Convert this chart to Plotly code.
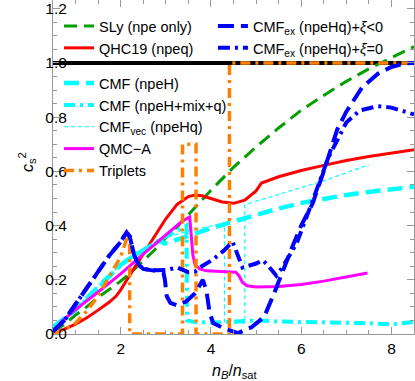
import plotly.graph_objects as go

# ---------------- data ----------------
sly_x = [0.5, 0.75, 1.0, 1.25, 1.5, 1.75, 2.0, 2.25, 2.5, 2.75, 3.0, 3.25, 3.5, 3.75, 4.0, 4.5,
         5.0, 5.5, 6.0, 6.5, 7.0, 7.5, 8.0, 8.5]
sly_y = [0.008, 0.035, 0.07, 0.1, 0.135, 0.165, 0.195, 0.23, 0.27, 0.31, 0.355, 0.395, 0.44, 0.485,
         0.53, 0.615, 0.69, 0.76, 0.825, 0.88, 0.932, 0.978, 1.02, 1.06]

qhc_x = [0.5, 0.75, 1.0, 1.25, 1.5, 1.75, 1.9, 2.0, 2.25, 2.5, 2.75, 3.0, 3.25, 3.5, 3.65, 3.8,
         4.0, 4.25, 4.5, 4.75, 5.0, 5.12, 5.5, 6.0, 6.5, 7.0, 7.5, 8.0, 8.5]
qhc_y = [0.003, 0.018, 0.036, 0.06, 0.088, 0.118, 0.14, 0.163, 0.23, 0.295, 0.36, 0.425, 0.478,
         0.507, 0.513, 0.51, 0.5, 0.487, 0.482, 0.494, 0.528, 0.557, 0.58, 0.603, 0.622, 0.64,
         0.655, 0.668, 0.68]

cmf_x = [0.5, 0.75, 1.0, 1.25, 1.5, 1.75, 2.0, 2.25, 2.5, 2.75, 2.88, 2.95, 3.05, 3.2, 3.5, 3.75,
         4.0, 4.5, 5.0, 5.5, 6.0, 6.5, 7.0, 7.5, 8.0, 8.5]
cmf_y = [0.025, 0.055, 0.09, 0.133, 0.175, 0.215, 0.255, 0.285, 0.31, 0.333, 0.345, 0.335, 0.335,
         0.345, 0.362, 0.378, 0.39, 0.415, 0.44, 0.463, 0.483, 0.5, 0.513, 0.524, 0.534, 0.543]

mix_x = [0.5, 0.75, 1.0, 1.25, 1.5, 1.75, 2.0, 2.25, 2.5, 2.75, 3.0, 3.2, 3.46, 3.47, 3.6, 4.0,
         4.5, 5.0, 5.5, 6.0, 6.5, 7.0, 7.5, 8.0, 8.5]
mix_y = [0.02, 0.05, 0.087, 0.13, 0.173, 0.213, 0.253, 0.285, 0.31, 0.335, 0.36, 0.375, 0.4, 0.05,
         0.045, 0.042, 0.045, 0.05, 0.046, 0.045, 0.044, 0.042, 0.04, 0.035, 0.045]

vec_x = [0.5, 1.0, 1.5, 2.0, 2.5, 2.8, 3.0, 3.5, 4.0, 4.3, 4.3, 4.75, 4.75, 5.0, 5.5, 6.0, 6.5,
         7.0, 7.5]
vec_y = [0.025, 0.09, 0.175, 0.255, 0.31, 0.338, 0.355, 0.38, 0.4, 0.41, 0.04, 0.04, 0.476, 0.49,
         0.515, 0.54, 0.565, 0.595, 0.624]

qmc_x = [0.65, 1.0, 1.5, 2.0, 2.5, 3.0, 3.35, 3.53, 3.57, 3.6, 3.65, 3.75, 3.9, 4.2, 4.55, 4.62,
         4.7, 4.8, 5.0, 5.5, 6.0, 6.5, 7.0, 7.47]
qmc_y = [0.04, 0.09, 0.155, 0.222, 0.295, 0.365, 0.415, 0.432, 0.36, 0.29, 0.255, 0.24, 0.233,
         0.23, 0.228, 0.215, 0.19, 0.178, 0.173, 0.175, 0.183, 0.195, 0.21, 0.225]

trip_x = [0.5, 0.75, 1.0, 1.25, 1.5, 1.75, 2.0, 2.16, 2.2, 2.2, 3.37, 3.37, 3.67, 3.67, 4.41,
          4.41, 8.5]
trip_y = [0.003, 0.015, 0.04, 0.085, 0.14, 0.21, 0.285, 0.365, 0.35, 0.0, 0.0, 0.70, 0.70, 0.0,
          0.0, 1.0, 1.0]

exneg_x = [0.5, 0.75, 1.0, 1.25, 1.5, 1.75, 2.0, 2.13, 2.2, 2.3, 2.4, 2.5, 2.8, 2.95, 2.98, 3.02,
           3.1, 3.25, 3.45, 3.65, 3.82, 3.9, 3.97, 4.05, 4.3, 4.6, 4.9, 5.18, 5.4, 5.6, 5.8, 6.0,
           6.25, 6.5, 6.8, 7.0, 7.35, 7.7, 8.0, 8.3, 8.5]
exneg_y = [0.01, 0.05, 0.11, 0.17, 0.228, 0.29, 0.34, 0.375, 0.36, 0.29, 0.255, 0.24, 0.232,
           0.225, 0.2, 0.14, 0.115, 0.105, 0.12, 0.15, 0.2, 0.16, 0.08, 0.04, 0.02, 0.003, 0.025,
           0.063, 0.15, 0.24, 0.32, 0.4, 0.48, 0.6, 0.755, 0.82, 0.91, 0.96, 0.985, 0.998, 1.0]

ex0_x = [0.5, 0.75, 1.0, 1.25, 1.5, 1.75, 2.0, 2.13, 2.2, 2.3, 2.4, 2.5, 2.8, 3.0, 3.25, 3.5,
         3.65, 3.8, 4.05, 4.3, 4.48, 4.55, 4.7, 5.0, 5.15, 5.25, 5.45, 5.6, 5.9, 6.25, 6.6, 7.0,
         7.3, 7.7, 8.0, 8.3, 8.5]
ex0_y = [0.01, 0.05, 0.11, 0.17, 0.228, 0.29, 0.34, 0.375, 0.36, 0.29, 0.255, 0.24, 0.235, 0.236,
         0.245, 0.228, 0.23, 0.25, 0.275, 0.31, 0.34, 0.31, 0.245, 0.26, 0.272, 0.255, 0.215,
         0.25, 0.335, 0.49, 0.65, 0.78, 0.825, 0.84, 0.835, 0.82, 0.81]

x_ticks = [2, 4, 6, 8]
y_ticks = [0.0, 0.2, 0.4, 0.6, 0.8, 1.0, 1.2]

# ---------------- figure ----------------
GREEN = "#00a000"
RED = "#ff0000"
CYAN = "#00ffff"
MAG = "#ff00ff"
ORANGE = "#ff8000"
BLUE = "#0000ff"
DASHDOT = "10px,5px,3px,5px"

fig = go.Figure()


def add(x, y, name, color, width, dash, legend):
    fig.add_trace(go.Scatter(x=x, y=y, mode="lines", name=name,
                             line=dict(color=color, width=width, dash=dash),
                             legend=legend, hoverinfo="skip"))


add(sly_x, sly_y, "SLy (npe only)", GREEN, 3, "13px,7px", "legend")
add(qhc_x, qhc_y, "QHC19 (npeq)", RED, 3, "solid", "legend")
add(cmf_x, cmf_y, "CMF (npeH)", CYAN, 4.5, "15px,7px", "legend2")
add(mix_x, mix_y, "CMF (npeH+mix+q)", CYAN, 4, "11px,5px,3px,5px", "legend2")
add(vec_x, vec_y, "CMF<sub>vec</sub> (npeHq)", CYAN, 1.2, "4px,3px", "legend2")
add(qmc_x, qmc_y, "QMC\u2212A", MAG, 3, "solid", "legend2")
add(trip_x, trip_y, "Triplets", ORANGE, 3.5, DASHDOT, "legend2")
add(exneg_x, exneg_y, "CMF<sub>ex</sub> (npeHq)+<i>\u03be</i>&lt;0", BLUE, 4, "16px,7px", "legend3")
add(ex0_x, ex0_y, "CMF<sub>ex</sub> (npeHq)+<i>\u03be</i>=0", BLUE, 4, "12px,5px,3px,5px", "legend3")

fig.add_shape(type="line", xref="paper", x0=0, x1=1, yref="y", y0=1.0, y1=1.0,
              line=dict(color="black", width=4), layer="below")

FONT = "Liberation Sans, Arial, sans-serif"
axcol = "#999999"
legfont = dict(family=FONT, size=14.5, color="black")

# axis titles as annotations (precise placement)
fig.add_annotation(text="<i>c</i><sub>s</sub><sup>2</sup>", xref="paper", yref="paper",
                   x=-0.072, y=0.515, xanchor="center", yanchor="middle", textangle=-90,
                   showarrow=False, font=dict(family=FONT, size=16, color="black"))
fig.add_annotation(text="<i>n</i><sub><i>B</i></sub>/<i>n</i><sub>sat</sub>", xref="paper",
                   yref="paper", x=0.504, y=-0.1108, xanchor="center", yanchor="middle",
                   showarrow=False, font=dict(family=FONT, size=16, color="black"))

fig.update_layout(
    width=415, height=381,
    margin=dict(l=53, r=1, t=0, b=47),
    paper_bgcolor="white", plot_bgcolor="white",
    font=dict(family=FONT, color="black"),
    xaxis=dict(range=[0.5, 8.5], tickvals=x_ticks, ticks="inside", ticklen=7, tickcolor=axcol,
               showline=True, linecolor=axcol, linewidth=1, mirror="ticks", automargin=False,
               minor=dict(ticks="inside", dtick=0.5, tick0=0, ticklen=4, tickcolor=axcol),
               showgrid=False, zeroline=False, tickfont=dict(size=15.5, color="black")),
    yaxis=dict(range=[0, 1.232], tickvals=y_ticks, tickformat=".1f", ticks="inside", ticklen=7,
               tickcolor=axcol, showline=True, linecolor=axcol, linewidth=1, mirror="ticks",
               automargin=False, ticklabelstandoff=-18,
               minor=dict(ticks="inside", dtick=0.05, tick0=0, ticklen=4, tickcolor=axcol),
               showgrid=False, zeroline=False, tickfont=dict(size=15.5, color="black")),
    legend=dict(x=0.0166, y=0.9698, xanchor="left", yanchor="top", bgcolor="rgba(0,0,0,0)",
                font=legfont, borderwidth=0),
    legend2=dict(x=0.0166, y=0.7991, xanchor="left", yanchor="top", bgcolor="rgba(0,0,0,0)",
                 font=legfont, borderwidth=0),
    legend3=dict(x=0.443, y=0.9698, xanchor="left", yanchor="top", bgcolor="rgba(0,0,0,0)",
                 font=legfont, borderwidth=0),
    showlegend=True,
)

# remove the browser's default 8px page margin so the figure fills the window exactly
fig.write_html("out.html", config={"displayModeBar": False},
               post_script="document.body.style.margin='0px';")
